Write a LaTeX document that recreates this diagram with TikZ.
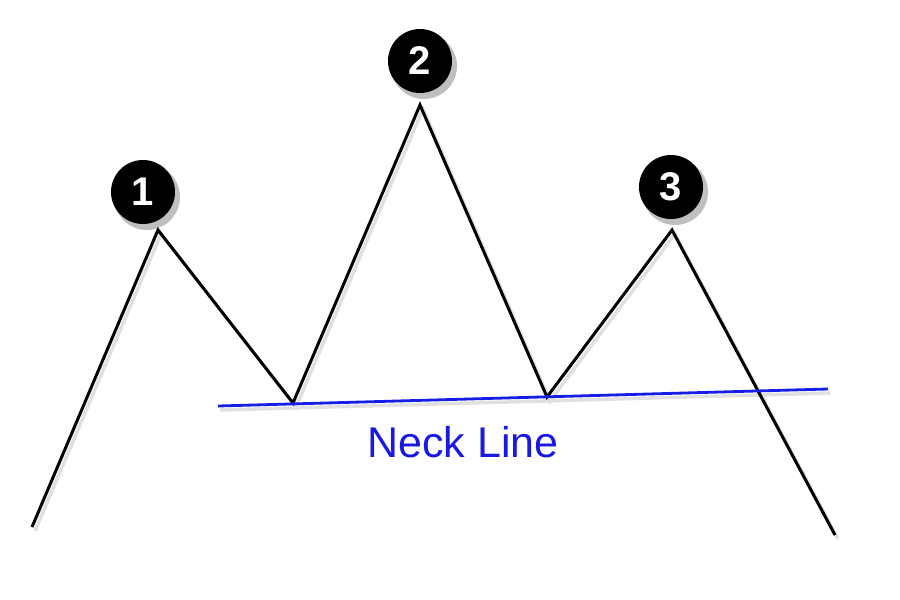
\documentclass[tikz,border=0pt]{standalone}
\usepackage{fontspec}
\setmainfont{Liberation Sans}
\begin{document}
\begin{tikzpicture}[x=1pt,y=-1pt,
  price/.style={line width=3pt,black,line join=miter},
  shade/.style={line width=3.5pt,black!12},
  neck/.style={line width=2.8pt,color={rgb,255:red,20;green,30;blue,230}},
  badge/.style={circle,fill=black,minimum size=64pt,inner sep=0pt,text=white,
    font=\fontsize{40}{40}\selectfont\bfseries},
  badgeshadow/.style={circle,fill=black!25,minimum size=66pt,inner sep=0pt},
  label/.style={font=\fontsize{43}{43}\selectfont,color={rgb,255:red,25;green,25;blue,225}}]
\useasboundingbox (0,0) rectangle (900,600);
\coordinate (s) at (32,527);
\coordinate (p1) at (158,230);
\coordinate (t1) at (293,403);
\coordinate (p2) at (420,105);
\coordinate (t2) at (547,397);
\coordinate (p3) at (672,230);
\coordinate (e) at (835,535);
\coordinate (na) at (218,406);
\coordinate (nb) at (828,389);
% soft shadows
\draw[shade] ([shift={(3,4)}]s) -- ([shift={(3,4)}]p1) -- ([shift={(3,4)}]t1) -- ([shift={(3,4)}]p2) -- ([shift={(3,4)}]t2) -- ([shift={(3,4)}]p3) -- ([shift={(3,4)}]e);
\draw[shade] ([shift={(2,4)}]na) -- ([shift={(2,4)}]nb);
\node[badgeshadow] at (147,197) {};
\node[badgeshadow] at (424,66) {};
\node[badgeshadow] at (675,192) {};
% main drawing
\draw[price] (s) -- (p1) -- (t1) -- (p2) -- (t2) -- (p3) -- (e);
\draw[neck] (na) -- (nb);
\node[badge] (b1) at (143,192) {1};
\node[badge] (b2) at (420,61) {2};
\node[badge] (b3) at (671,187) {3};
\node[label] (nl) at (463,442) {Neck Line};
\end{tikzpicture}
\end{document}
